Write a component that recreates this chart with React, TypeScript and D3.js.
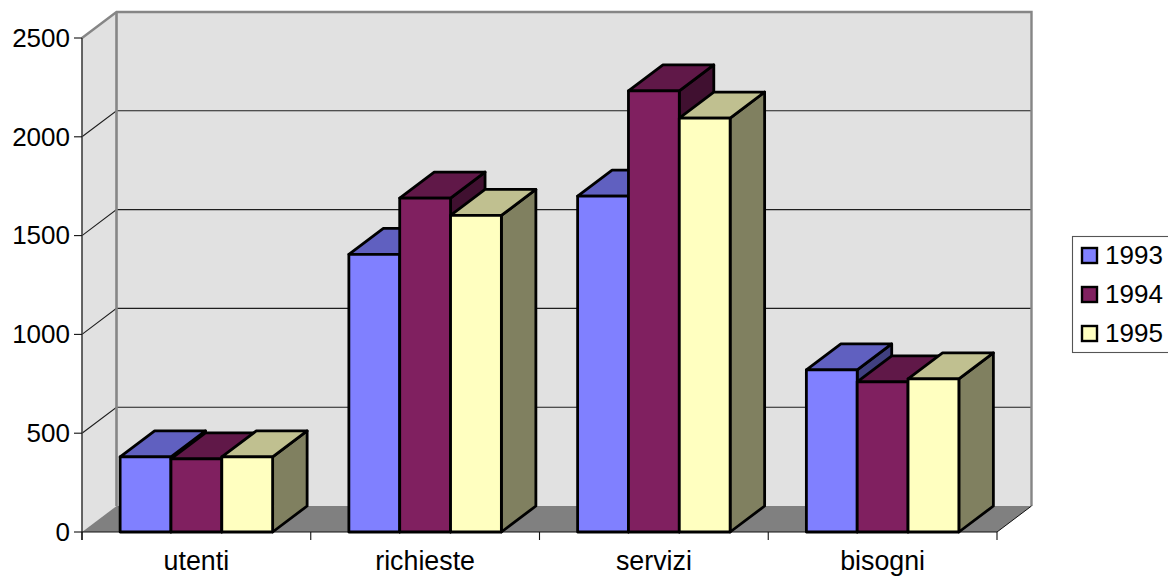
import React from "react";
import * as d3 from "d3";

const categories = ["utenti", "richieste", "servizi", "bisogni"];
const years = ["1993", "1994", "1995"];
const values1993 = [380, 1405, 1700, 820];
const values1994 = [370, 1690, 2232, 760];
const values1995 = [380, 1602, 2095, 775];
const yTicks = [0, 500, 1000, 1500, 2000, 2500];
const frontColors = ["#8080ff", "#802060", "#ffffc0"];
const topColors = ["#6060c0", "#601848", "#c0c090"];
const sideColors = ["#404080", "#401030", "#808060"];

const seriesValues = [values1993, values1994, values1995];

const WIDTH = 1168;
const HEIGHT = 577;
const DEPTH_X = 34.5;
const DEPTH_Y = -26;
const FONT = "'Liberation Sans', Arial, sans-serif";
const LABEL_SIZE = 26.8;
const NUMBER_SIZE = 26;

const y = d3.scaleLinear().domain([0, 2500]).range([532, 38]);
const xGroup = d3.scaleBand<string>().domain(categories).range([82, 997]);
const xBar = d3
  .scaleBand<string>()
  .domain(years)
  .range([0, xGroup.bandwidth()])
  .paddingInner(0)
  .paddingOuter(0.75);

const poly = (pts: [number, number][]) => (d3.line()(pts) ?? "") + "Z";

function Bar({ category, s }: { category: number; s: number }) {
  const x0 = xGroup(categories[category])! + xBar(years[s])!;
  const x1 = x0 + xBar.bandwidth();
  const yTop = y(seriesValues[s][category]);
  const yBase = y(0);
  const common = { stroke: "#000", strokeWidth: 2.8, strokeLinejoin: "round" as const };
  return (
    <g>
      <path
        d={poly([[x1, yTop], [x1 + DEPTH_X, yTop + DEPTH_Y], [x1 + DEPTH_X, yBase + DEPTH_Y], [x1, yBase]])}
        fill={sideColors[s]}
        {...common}
      />
      <path
        d={poly([[x0, yTop], [x0 + DEPTH_X, yTop + DEPTH_Y], [x1 + DEPTH_X, yTop + DEPTH_Y], [x1, yTop]])}
        fill={topColors[s]}
        {...common}
      />
      <rect x={x0} y={yTop} width={x1 - x0} height={yBase - yTop} fill={frontColors[s]} {...common} />
    </g>
  );
}

export default function App() {
  const left = xGroup.range()[0];
  const right = xGroup.range()[1];
  const base = y(0);
  const top = y(2500);
  const xTicks = [...categories.map((c) => xGroup(c)!), right];
  const wallGray = "#868686";

  return (
    <svg
      width={WIDTH}
      height={HEIGHT}
      viewBox={`0 0 ${WIDTH} ${HEIGHT}`}
      style={{ position: "absolute", left: 0, top: 0, background: "#fff" }}
      fontFamily={FONT}
    >
      {/* Walls and floor */}
      <path
        d={poly([[left, base], [left, top], [left + DEPTH_X, top + DEPTH_Y], [left + DEPTH_X, base + DEPTH_Y]])}
        fill="#e1e1e1"
      />
      <rect
        x={left + DEPTH_X}
        y={top + DEPTH_Y}
        width={right - left}
        height={base - top}
        fill="#e1e1e1"
      />
      <path
        d={poly([[left, base], [left + DEPTH_X, base + DEPTH_Y], [right + DEPTH_X, base + DEPTH_Y], [right, base]])}
        fill="#808080"
      />

      {/* Gridlines across the side and back walls */}
      {yTicks.slice(1, -1).map((t) => (
        <path
          key={t}
          d={d3.line()([[left, y(t)], [left + DEPTH_X, y(t) + DEPTH_Y], [right + DEPTH_X, y(t) + DEPTH_Y]]) ?? ""}
          fill="none"
          stroke="#1e1e1e"
          strokeWidth={1.1}
        />
      ))}

      {/* Wall outlines */}
      <path
        d={d3.line()([[left, top], [left + DEPTH_X, top + DEPTH_Y], [right + DEPTH_X, top + DEPTH_Y], [right + DEPTH_X, base + DEPTH_Y]]) ?? ""}
        fill="none"
        stroke={wallGray}
        strokeWidth={2.4}
      />
      <line
        x1={left + DEPTH_X}
        x2={left + DEPTH_X}
        y1={top + DEPTH_Y}
        y2={base + DEPTH_Y}
        stroke={wallGray}
        strokeWidth={2.6}
      />
      <line
        x1={right}
        y1={base}
        x2={right + DEPTH_X}
        y2={base + DEPTH_Y}
        stroke="#111"
        strokeWidth={1}
      />

      {/* Axes */}
      <line x1={left} x2={left} y1={top} y2={base + 8} stroke="#404040" strokeWidth={1.6} />
      <line x1={left} x2={right} y1={base} y2={base} stroke="#111" strokeWidth={1.2} />
      {yTicks.map((t) => (
        <g key={t}>
          <line x1={left - 8} x2={left} y1={y(t)} y2={y(t)} stroke="#111" strokeWidth={1.1} />
          <text x={70} y={y(t) - 0.5} dy="0.36em" textAnchor="end" fontSize={NUMBER_SIZE} fill="#000">
            {t}
          </text>
        </g>
      ))}
      {xTicks.map((tx) => (
        <line key={tx} x1={tx} x2={tx} y1={base} y2={base + 8} stroke="#111" strokeWidth={1.1} />
      ))}
      {categories.map((c) => (
        <text
          key={c}
          x={xGroup(c)! + xGroup.bandwidth() / 2}
          y={570}
          textAnchor="middle"
          fontSize={LABEL_SIZE}
          fill="#000"
        >
          {c}
        </text>
      ))}

      {/* Bars, painted rear to front within each group */}
      {categories.map((c, i) => (
        <g key={c}>
          {years.map((yr, s) => (
            <Bar key={yr} category={i} s={s} />
          ))}
        </g>
      ))}

      {/* Legend */}
      <rect x={1072.5} y={236.5} width={110} height={116} fill="#fff" stroke="#555" strokeWidth={1.1} />
      {years.map((yr, s) => (
        <g key={yr}>
          <rect
            x={1082}
            y={248 + s * 39}
            width={15}
            height={15}
            fill={frontColors[s]}
            stroke="#000"
            strokeWidth={2.4}
          />
          <text x={1105} y={254.5 + s * 39} dy="0.36em" fontSize={NUMBER_SIZE} fill="#000">
            {yr}
          </text>
        </g>
      ))}
    </svg>
  );
}
